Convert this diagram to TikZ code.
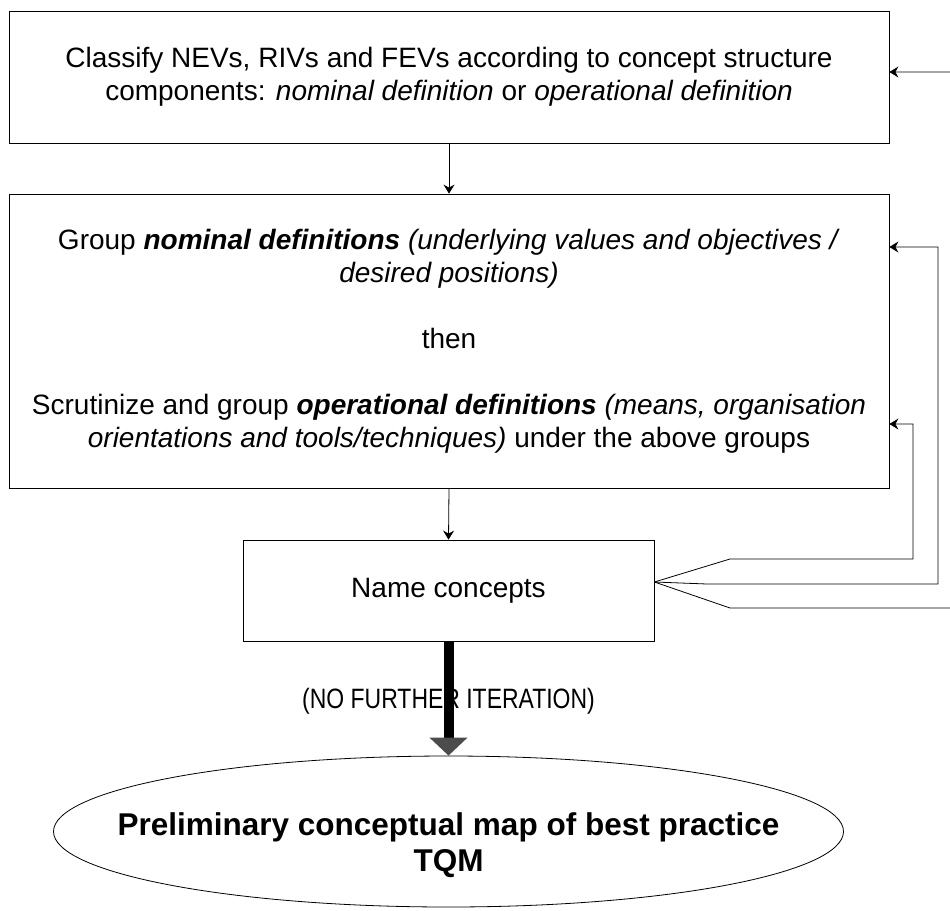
\documentclass[tikz,border=0pt]{standalone}
\usepackage{fontspec}
\setmainfont{Liberation Sans}
\newfontfamily\narrowsans{Liberation Sans}[FakeStretch=0.82]
\usetikzlibrary{arrows.meta,shapes.geometric}

\begin{document}
\begin{tikzpicture}[x=1pt,y=-1pt,
  stepbox/.style={draw, line width=0.8pt, rectangle, inner sep=0pt,
    align=center, font=\fontsize{28}{33}\selectfont},
  link/.style={draw, line width=0.8pt,
    -{Stealth[length=9pt,width=11pt,inset=3pt]}},
  maptext/.style={align=center, inner sep=0pt,
    font=\bfseries\fontsize{31.5}{36}\selectfont},
]
\useasboundingbox (0,0) rectangle (950,910);
\clip (0,0) rectangle (950,910);

% process steps
\node[stepbox, minimum width=880pt, minimum height=132pt] (classify) at (449,77)
  {Classify NEVs, RIVs and FEVs according to concept structure\\
   components: \textit{nominal definition} or \textit{operational definition}};

\node[stepbox, minimum width=880pt, minimum height=294pt] (group) at (449,341)
  {Group \textbf{\textit{nominal definitions}} \textit{(underlying values and objectives /}\\
   \textit{desired positions)}\\[33pt]
   then\\[33pt]
   Scrutinize and group \textbf{\textit{operational definitions}} \textit{(means, organisation}\\
   \textit{orientations and tools/techniques)} under the above groups};

\node[stepbox, minimum width=411pt, minimum height=101pt] (name) at (448.5,590.5)
  {Name concepts};

% outcome
\node[draw, ellipse, line width=0.8pt, inner sep=0pt,
      minimum width=790pt, minimum height=151pt] (map) at (448.5,831.5) {};
\node[maptext] (maplabel) at (448.5,845)
  {Preliminary conceptual map of best practice\\TQM};

% forward flow
\draw[link] (classify.south) -- (group.north);
\draw[link] (group.south) -- (name.north);

% feedback loops from naming back to earlier steps
\coordinate (fb) at ([yshift=8.5pt]name.east);
\coordinate (r1) at (913,424);
\coordinate (r2) at (938,247);
\coordinate (r3) at (965,72);
\draw[link] (fb) -- (730,559) -- (913,559) -- (r1) -- (r1 -| group.east);
\draw[link] (fb) -- (707,584) -- (938,584) -- (r2) -- (r2 -| group.east);
\draw[link] (fb) -- (730,608) -- (965,608) -- (r3) -- (r3 -| classify.east);

% exit
\node[anchor=base, inner sep=0pt, font=\narrowsans\fontsize{28}{33}\selectfont]
  (stop) at (448.5,708) {(NO FURTHER ITERATION)};
\draw[line width=10pt, -{Triangle[length=18pt,width=37pt,color=black!70]}]
  (name.south) -- (map.north);
\end{tikzpicture}
\end{document}
